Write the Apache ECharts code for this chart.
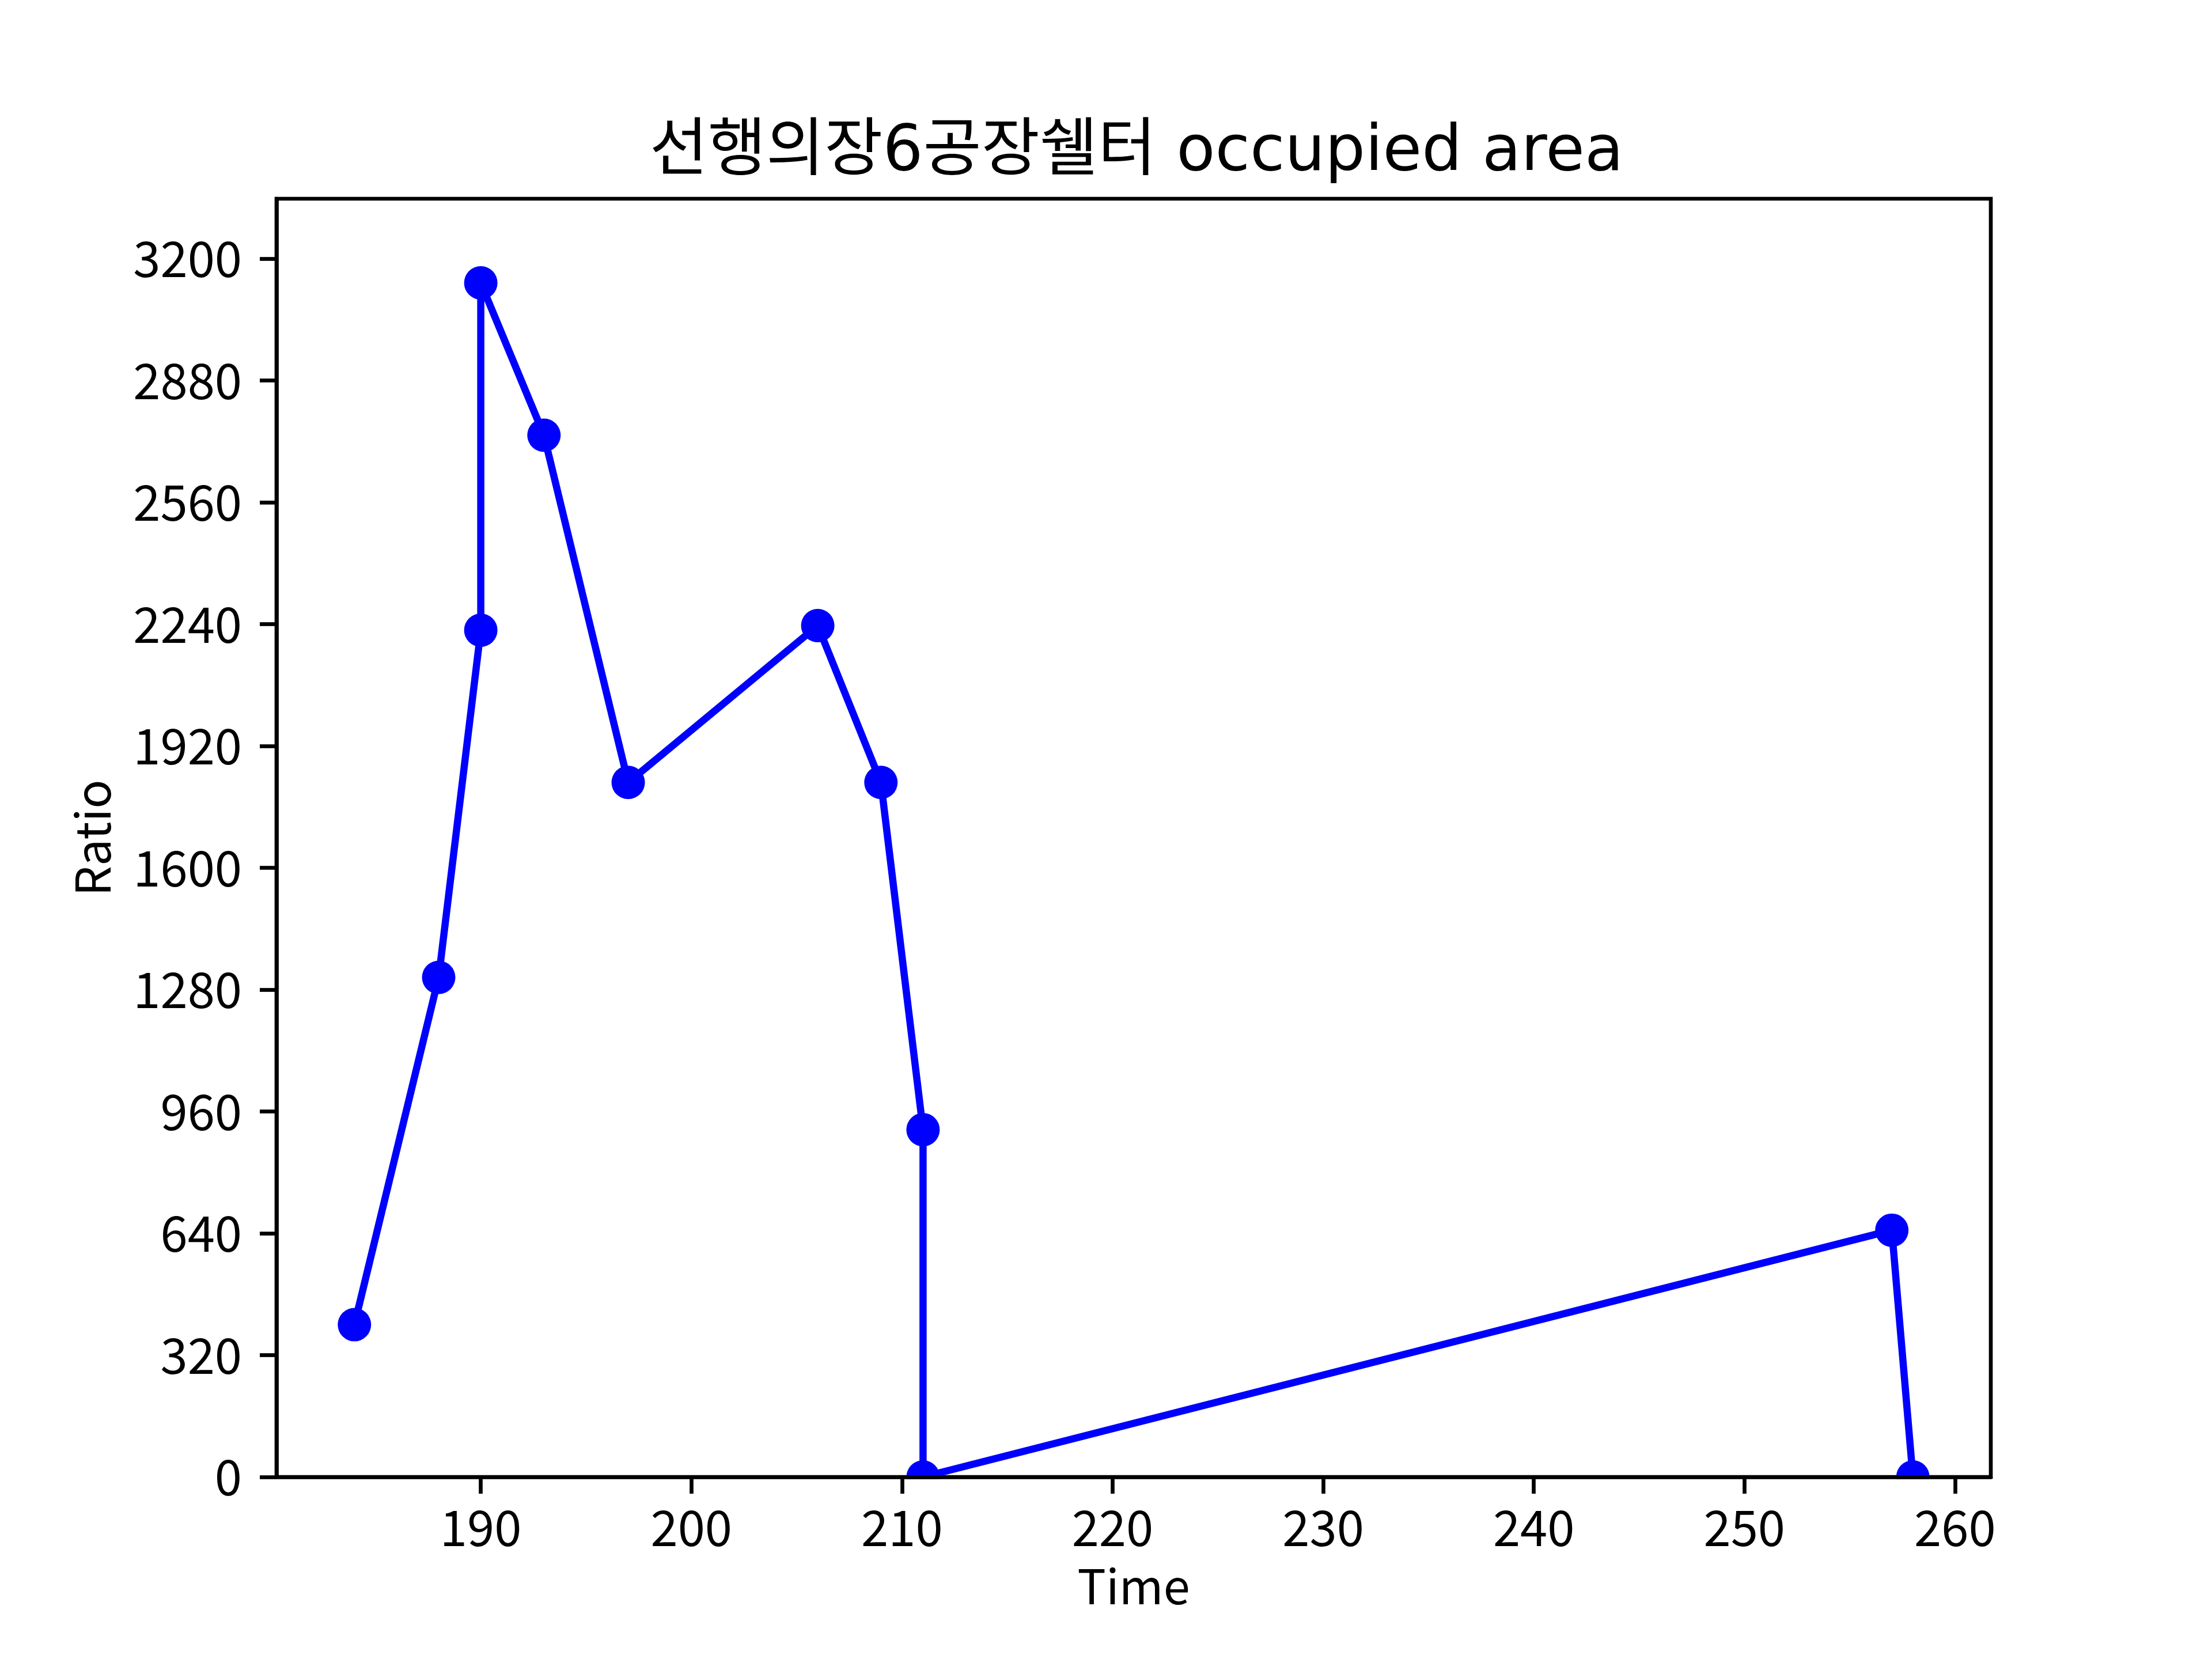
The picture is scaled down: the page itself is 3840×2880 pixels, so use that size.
<!DOCTYPE html>
<html>
<head>
<meta charset="utf-8">
<script src="https://cdn.jsdelivr.net/npm/echarts@6/dist/echarts.min.js"></script>
<style>
html,body{margin:0;padding:0;background:#fff;}
#chart{width:3840px;height:2880px;}
</style>
</head>
<body>
<div id="chart"></div>
<script>
const titleText = '선행의장6공장쉘터 occupied area';
const times = [184, 188, 190, 190, 193, 197, 206, 209, 211, 211, 257, 258];
const ratios = [400, 1312, 2224, 3136, 2736, 1824, 2236, 1824, 912, 0, 648, 0];
const xTicks = [190, 200, 210, 220, 230, 240, 250, 260];
const yTicks = [0, 320, 640, 960, 1280, 1600, 1920, 2240, 2560, 2880, 3200];

const FONT = '"Noto Sans CJK KR", "Noto Sans", sans-serif';
const TITLE_FONT = '"DejaVu Sans", "Noto Sans CJK KR", sans-serif';
const chart = echarts.init(document.getElementById('chart'), null, {renderer: 'canvas'});
const points = times.map((t, i) => [t, ratios[i]]);

chart.setOption({
  backgroundColor: '#ffffff',
  animation: false,
  textStyle: {fontFamily: FONT, color: '#000'},
  title: {
    text: titleText,
    left: 1968,
    top: 206,
    textAlign: 'center',
    textStyle: {fontFamily: TITLE_FONT, fontSize: 110, fontWeight: 'normal', color: '#000'}
  },
  grid: {
    left: 480, right: 384, top: 345, bottom: 316,
    show: true, borderColor: '#000', borderWidth: 6.67, backgroundColor: 'transparent',
    containLabel: false
  },
  xAxis: {
    type: 'value',
    min: 180.3,
    max: 261.7,
    z: 10,
    name: 'Time',
    nameLocation: 'middle',
    nameGap: 148,
    nameTextStyle: {fontFamily: FONT, fontSize: 83, color: '#000'},
    axisLine: {show: true, onZero: false, lineStyle: {color: '#000', width: 6.67}},
    axisTick: {show: true, length: 29, lineStyle: {color: '#000', width: 6.67}, customValues: xTicks},
    axisLabel: {fontFamily: FONT, fontSize: 85, color: '#000', margin: 45, customValues: xTicks,
      formatter: v => String(v)},
    splitLine: {show: false}
  },
  yAxis: {
    type: 'value',
    min: 0,
    max: 3357,
    z: 10,
    name: 'Ratio',
    nameLocation: 'middle',
    nameGap: 278,
    nameRotate: 90,
    nameTextStyle: {fontFamily: FONT, fontSize: 83, color: '#000'},
    axisLine: {show: true, onZero: false, lineStyle: {color: '#000', width: 6.67}},
    axisTick: {show: true, length: 29, lineStyle: {color: '#000', width: 6.67}, customValues: yTicks},
    axisLabel: {fontFamily: FONT, fontSize: 85, color: '#000', margin: 60, customValues: yTicks,
      formatter: v => String(v)},
    splitLine: {show: false}
  },
  graphic: [{
    type: 'rect',
    silent: true,
    z: 5,
    shape: {x: 480, y: 2568, width: 2976, height: 40},
    style: {fill: '#ffffff'}
  }],
  series: [{
    type: 'line',
    data: points,
    symbol: 'circle',
    symbolSize: 58,
    showAllSymbol: true,
    clip: false,
    z: 2,
    itemStyle: {color: '#0000ff'},
    lineStyle: {color: '#0000ff', width: 12.5}
  }]
});
</script>
</body>
</html>
